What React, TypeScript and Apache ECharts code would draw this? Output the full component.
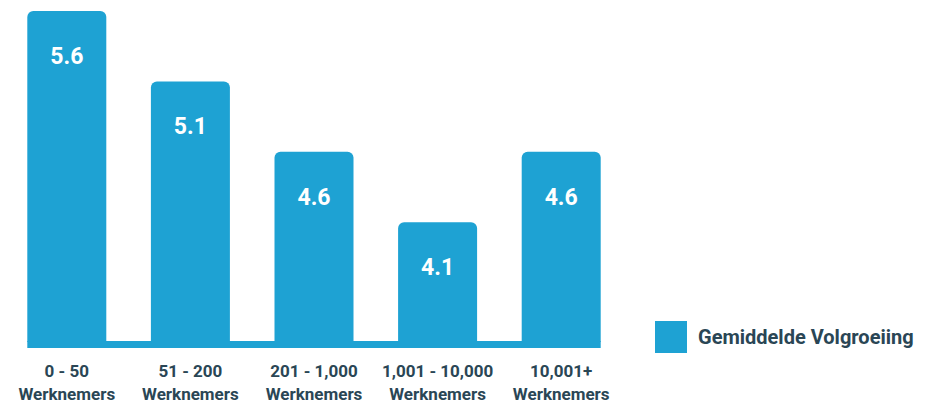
import React, { useEffect, useRef } from "react";
import * as echarts from "echarts";

const categories = [
  "0 - 50\nWerknemers",
  "51 - 200\nWerknemers",
  "201 - 1,000\nWerknemers",
  "1,001 - 10,000\nWerknemers",
  "10,001+\nWerknemers",
];
const values = [5.6, 5.1, 4.6, 4.1, 4.6];
const seriesName = "Gemiddelde Volgroeiing";

const BLUE = "#1ea2d3";
const DARK = "#2a4655";
const FONT = "Roboto, 'Noto Sans', sans-serif";
const Y_MIN = 3.25;
const Y_MAX = 5.6;
const BAR_W = 79;

export default function App() {
  const ref = useRef<HTMLDivElement>(null);
  useEffect(() => {
    if (!ref.current) return;
    const chart = echarts.init(ref.current, undefined, { renderer: "svg" });
    chart.setOption({
      animation: false,
      backgroundColor: "#ffffff",
      textStyle: { fontFamily: FONT },
      grid: { left: 5, right: 308, top: 11, bottom: 70, containLabel: false },
      legend: {
        left: 650,
        top: 316,
        itemWidth: 32,
        itemHeight: 32,
        itemGap: 10,
        icon: "rect",
        data: [seriesName],
        textStyle: { color: DARK, fontSize: 20, fontWeight: "bold", fontFamily: FONT, padding: [0, 0, 0, 6] },
      },
      xAxis: {
        type: "category",
        data: categories,
        axisLine: { show: false },
        axisTick: { show: false },
        axisLabel: {
          color: DARK,
          fontSize: 17,
          fontWeight: "bold",
          fontFamily: FONT,
          lineHeight: 23,
          margin: 17,
          interval: 0,
        },
      },
      yAxis: {
        type: "value",
        min: Y_MIN,
        max: Y_MAX,
        show: false,
        splitLine: { show: false },
      },
      series: [
        {
          name: seriesName,
          type: "bar",
          data: values,
          barWidth: BAR_W,
          itemStyle: { color: BLUE, borderRadius: [6, 6, 0, 0] },
          label: {
            show: true,
            position: "insideTop",
            distance: 34,
            color: "#ffffff",
            fontSize: 23,
            fontWeight: "bold",
            fontFamily: FONT,
            formatter: (p: any) => p.value.toFixed(1),
          },
        },
        {
          name: "baseline",
          type: "custom",
          data: [[0, Y_MIN]],
          silent: true,
          renderItem: (params: any, api: any) => {
            const first = api.coord([0, Y_MIN]);
            const last = api.coord([categories.length - 1, Y_MIN]);
            return {
              type: "rect",
              shape: {
                x: first[0] - BAR_W / 2,
                y: first[1] - 1,
                width: last[0] - first[0] + BAR_W,
                height: 7,
              },
              style: { fill: BLUE },
            };
          },
        },
      ],
    });
    return () => chart.dispose();
  }, []);
  return <div ref={ref} style={{ width: 931, height: 412, position: "absolute", left: 0, top: 0 }} />;
}
